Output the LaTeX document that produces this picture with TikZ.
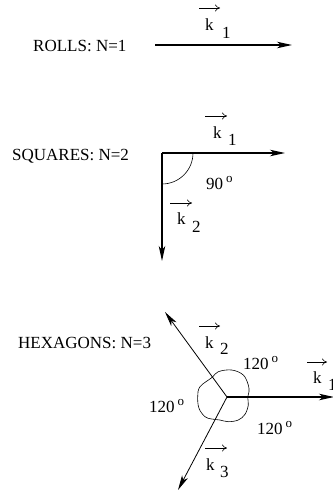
\documentclass[tikz,border=0pt]{standalone}
\usepackage{fontspec}
\setmainfont{Liberation Serif}
\usetikzlibrary{arrows.meta}

\newcommand{\dego}[1]{#1\hspace{3pt}\raisebox{7pt}{\fontsize{13}{13}\selectfont o}}

\tikzset{
  lbl/.style={inner sep=0pt, anchor=base west, font=\fontsize{17}{20}\selectfont},
  wave/.style={line width=1.1pt, -{Stealth[length=15pt, width=6.5pt, inset=4pt]}},
  vecbar/.style={line width=0.6pt, -{To[length=5pt, width=7pt]}},
}

\begin{document}
\begin{tikzpicture}[x=1pt, y=-1pt]
\useasboundingbox (0,0) rectangle (332,495);

% Rolls
\node[lbl] (rolls) at (33,52) {ROLLS: N=1};
\coordinate (O1) at (155,45);
\coordinate (R1) at (292,45);
\draw[wave] (O1) -- (R1);
\node[lbl] (rk1) at (205,31) {k};
\node[lbl] (rk1s) at (222,38) {1};
\draw[vecbar] (199,8) -- (220,8);

% Squares
\node[lbl] (squares) at (12,160) {SQUARES: N=2};
\coordinate (O2) at (162,153);
\coordinate (S1) at (285,153);
\coordinate (S2) at (162,261);
\draw[wave] (O2) -- (S1);
\draw[wave] (O2) -- (S2);
\draw[line width=0.6pt] (O2) ++(31,0) arc (0:90:31);
\node[lbl] (sk1) at (213,138) {k};
\node[lbl] (sk1s) at (228,145) {1};
\draw[vecbar] (205,116) -- (227,116);
\node[lbl] (sk2) at (177,224) {k};
\node[lbl] (sk2s) at (192,232) {2};
\draw[vecbar] (170,203) -- (192,203);
\node[lbl] (ang90) at (206,189) {\dego{90}};

% Hexagons
\node[lbl] (hexagons) at (18,348) {HEXAGONS: N=3};
\coordinate (O3) at (227,397);
\coordinate (H1) at (334,397);
\coordinate (H2) at (165,312);
\coordinate (H3) at (178,490);
\draw[wave] (O3) -- (H1);
\draw[wave, line width=0.8pt] (O3) -- (H2);
\draw[wave, line width=0.8pt] (O3) -- (H3);

% lobes round the centre
\draw[line width=0.6pt] plot[smooth cycle, tension=0.6] coordinates {
  (211.7,377.7) (218.3,371.7) (231.7,370) (243.3,375) (248.3,385)
  (249,391.7) (247.7,397.3) (248.3,405) (245,414.3) (238.3,420)
  (228.3,421.7) (220,420) (211.7,419) (205,416.7) (199,408.3)
  (197.7,396.7) (200,386.7)};

\node[lbl] (hk1) at (313,383) {k};
\node[lbl] (hk1s) at (328,390) {1};
\draw[vecbar] (307,362) -- (327,362);
\node[lbl] (hk2) at (205,348) {k};
\node[lbl] (hk2s) at (220,354) {2};
\draw[vecbar] (199,326) -- (220,326);
\node[lbl] (hk3) at (206,470) {k};
\node[lbl] (hk3s) at (220,477) {3};
\draw[vecbar] (205,448) -- (227,448);

\node[lbl] (ang12) at (243,369) {\dego{120}};
\node[lbl] (ang23) at (149,412) {\dego{120}};
\node[lbl] (ang31) at (257,434) {\dego{120}};

\end{tikzpicture}
\end{document}
